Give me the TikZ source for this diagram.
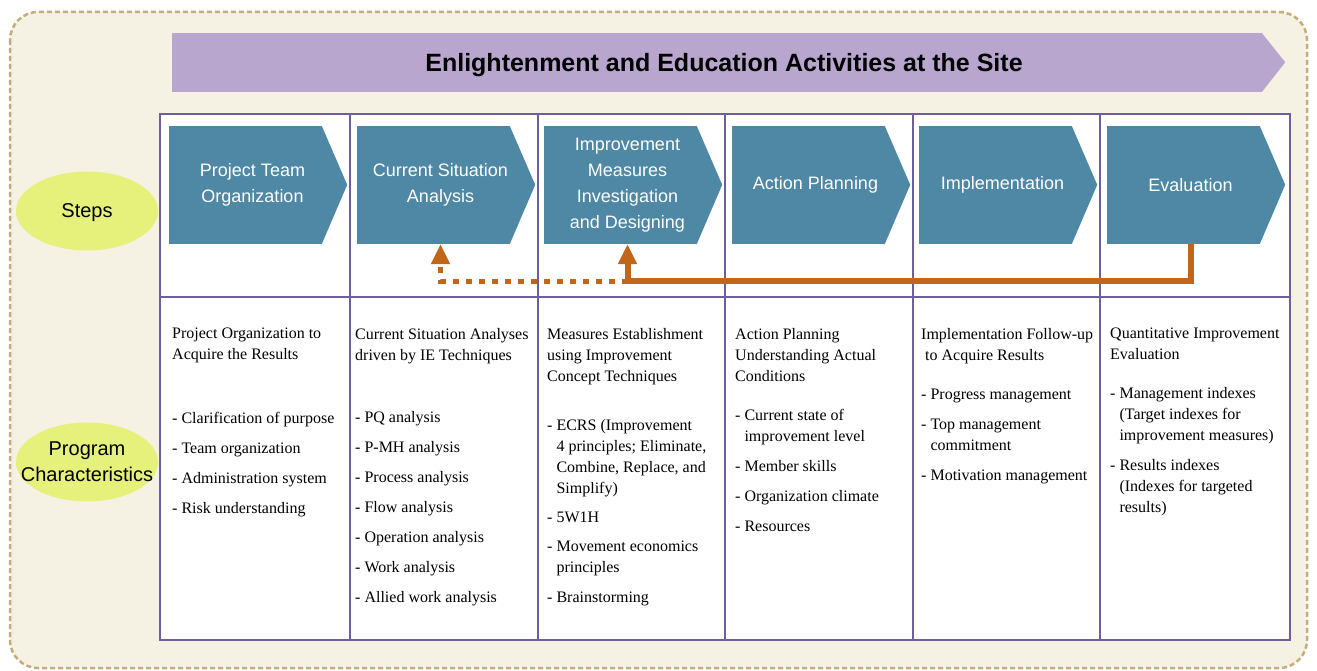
\documentclass[tikz,border=0pt]{standalone}
\usepackage{fontspec}
\setmainfont{Liberation Serif}
\setsansfont{Liberation Sans}
\usetikzlibrary{arrows.meta, shapes.geometric, calc}

\definecolor{cream}{HTML}{F5F1E3}
\definecolor{bordertan}{HTML}{C5AC78}
\definecolor{bannerpurple}{HTML}{B8A6CF}
\definecolor{stepblue}{HTML}{4E88A5}
\definecolor{gridpurple}{HTML}{6E5E9E}
\definecolor{tagyellow}{HTML}{E6F17C}
\definecolor{fborange}{HTML}{C2661A}

\begin{document}
\begin{tikzpicture}[x=1pt, y=-1pt,
    stepbox/.style={rectangle, fill=stepblue, minimum width=153pt, minimum height=118pt, inner sep=0pt},
    steptext/.style={text=white, align=center, inner sep=0pt, xshift=7pt, font=\sffamily\fontsize{18}{26}\selectfont},
    tag/.style={ellipse, fill=tagyellow, minimum width=142pt, minimum height=79pt, inner sep=0pt},
    tagtext/.style={align=center, inner sep=0pt, font=\sffamily\fontsize{20}{26}\selectfont},
    chartext/.style={anchor=north west, inner sep=0pt, align=left, font=\fontsize{16}{21}\selectfont},
    grid/.style={draw=gridpurple, line width=2pt},
    feedback/.style={draw=fborange, line width=6pt, -{Triangle[length=20pt, width=18pt]}}
]
    \useasboundingbox (0,0) rectangle (1317,671);
    \draw[fill=cream, draw=bordertan, line width=2.5pt, dash pattern=on 5pt off 3pt, rounded corners=28pt]
        (10,12) rectangle (1307,668);

    \node[rectangle, fill=bannerpurple, minimum width=1090pt, minimum height=59pt, inner sep=0pt,
          label={[inner sep=0pt, xshift=7pt, yshift=-3pt, font=\sffamily\bfseries\fontsize{25}{30}\selectfont]center:Enlightenment and Education Activities at the Site}]
          (title) at (717,62.5) {};
    \fill[bannerpurple] ([xshift=-0.5pt]title.north east) -- ++(23.5,29.5) -- ([xshift=-0.5pt]title.south east) -- cycle;

    \fill[white] (160,114) rectangle (1290,640);
    \draw[grid] (160,114) rectangle (1290,640);
    \draw[grid] (160,297) -- (1290,297);
    \foreach \x in {350,538,725,913,1100}
        \draw[grid] (\x,114) -- (\x,640);

    \node[tag, label={[tagtext, yshift=-2pt]center:Steps}]           (steps) at (87,211) {};
    \node[tag, label={[tagtext]center:{Program\\Characteristics}}]   (prog)  at (87,462) {};

    \node[stepbox, label={[steptext]center:{Project Team\\Organization}}]                          (s1) at (245.5,185) {};
    \node[stepbox, label={[steptext]center:{Current Situation\\Analysis}}]                         (s2) at (433.5,185) {};
    \node[stepbox, label={[steptext]center:{Improvement\\Measures\\Investigation\\and Designing}}] (s3) at (620.5,185) {};
    \node[stepbox, label={[steptext]center:{Action Planning}}]                                     (s4) at (808.5,185) {};
    \node[stepbox, label={[steptext]center:{Implementation}}]                                      (s5) at (995.5,185) {};
    \node[stepbox, label={[steptext]center:{Evaluation}}]                                          (s6) at (1183.5,185) {};
    \foreach \n in {1,...,6}
        \fill[stepblue] ([xshift=-0.5pt]s\n.north east) -- ++(25.5,59) -- ([xshift=-0.5pt]s\n.south east) -- cycle;

    \coordinate (fork) at ($(s3.south)+(7,37)$);
    \draw[feedback] ($(s6.south)+(7,0)$) |- (fork) -- ($(s3.south)+(7,0)$);
    \draw[feedback, line width=5pt, dash pattern=on 6pt off 7pt] (fork) -| ($(s2.south)+(7,0)$);

    \node[chartext] (c1) at (172,328) {Project Organization to\\
        Acquire the Results\\[43pt]
        - Clarification of purpose\\[9pt]
        - Team organization\\[9pt]
        - Administration system\\[9pt]
        - Risk understanding};
    \node[chartext] (c2) at (355,328) {Current Situation Analyses\\
        driven by IE Techniques\\[41pt]
        - PQ analysis\\[9pt]
        - P-MH analysis\\[9pt]
        - Process analysis\\[9pt]
        - Flow analysis\\[9pt]
        - Operation analysis\\[9pt]
        - Work analysis\\[9pt]
        - Allied work analysis};
    \node[chartext] (c3) at (547,328) {Measures Establishment\\
        using Improvement\\
        Concept Techniques\\[28pt]
        - ECRS (Improvement\\
        \hphantom{- }4 principles; Eliminate,\\
        \hphantom{- }Combine, Replace, and\\
        \hphantom{- }Simplify)\\[8pt]
        - 5W1H\\[8pt]
        - Movement economics\\
        \hphantom{- }principles\\[9pt]
        - Brainstorming};
    \node[chartext] (c4) at (735,328) {Action Planning\\
        Understanding Actual\\
        Conditions\\[18pt]
        - Current state of\\
        \hphantom{- }improvement level\\[9pt]
        - Member skills\\[9pt]
        - Organization climate\\[9pt]
        - Resources};
    \node[chartext] (c5) at (921,328) {Implementation Follow-up\\
        \hspace*{4pt}to Acquire Results\\[18pt]
        - Progress management\\[9pt]
        - Top management\\
        \hphantom{- }commitment\\[9pt]
        - Motivation management};
    \node[chartext] (c6) at (1110,328) {Quantitative Improvement\\
        Evaluation\\[18pt]
        - Management indexes\\
        \hphantom{- }(Target indexes for\\
        \hphantom{- }improvement measures)\\[9pt]
        - Results indexes\\
        \hphantom{- }(Indexes for targeted\\
        \hphantom{- }results)};
\end{tikzpicture}
\end{document}
